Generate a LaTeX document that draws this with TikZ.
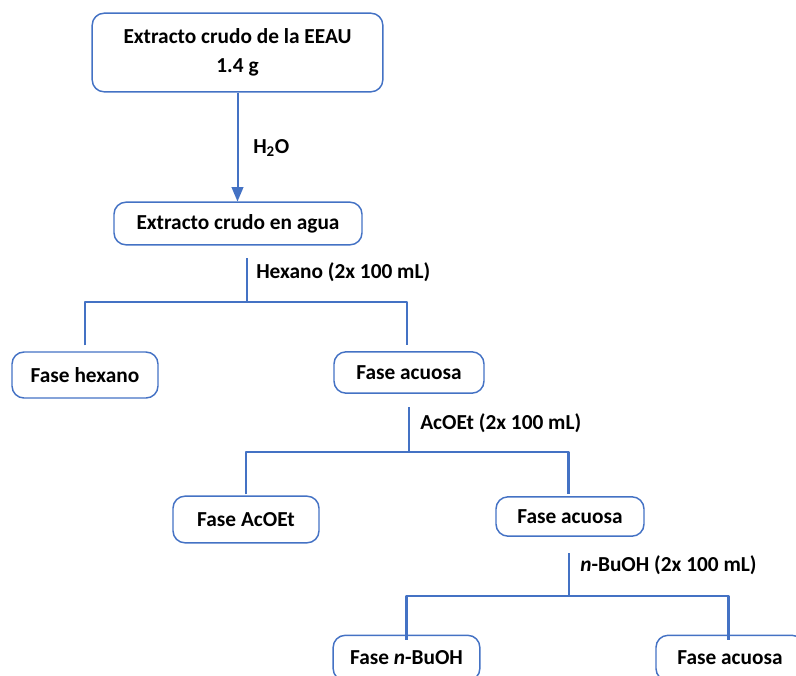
\documentclass[tikz,border=0pt]{standalone}
\usepackage{fontspec}
\setmainfont{Carlito}
\usetikzlibrary{arrows}
\usetikzlibrary{positioning}
\definecolor{azul}{HTML}{4472C4}

\begin{document}
\begin{tikzpicture}[line cap=butt,line join=round,>=triangle 45,x=0.75pt,y=-0.75pt,
  caja/.style={draw=azul,line width=1.1pt,rounded corners=9pt,align=center,inner sep=0pt,
    font=\bfseries\fontsize{16}{21.5}\selectfont},
  rama/.style={draw=azul,line width=2.2pt},
  flecha/.style={draw=azul,line width=1.5pt,->},
  etiqueta/.style={anchor=west,inner sep=0pt,font=\bfseries\fontsize{16}{19}\selectfont}]
\useasboundingbox (0,0) rectangle (796,675);
\clip (0,0) rectangle (796,675);
% cajas
\node[caja,minimum width=218pt,minimum height=59pt] (extracto) at (237.5,52.5) {Extracto crudo de la EEAU\\1.4 g};
\node[caja,minimum width=186pt,minimum height=32pt] (agua) at (238,223.5) {Extracto crudo en agua};
\node[caja,minimum width=109.5pt,minimum height=34.5pt] (fhex) at (85,375) {Fase hexano};
\node[caja,minimum width=112.5pt,minimum height=31pt] (facu1) at (409,372.5) {Fase acuosa};
\node[caja,minimum width=109.5pt,minimum height=35pt] (facoet) at (246,519.5) {Fase AcOEt};
\node[caja,minimum width=111pt,minimum height=29.5pt] (facu2) at (570,516.5) {Fase acuosa};
\node[caja,minimum width=110pt,minimum height=34pt] (fbuoh) at (406.5,658) {Fase \textit{n}-BuOH};
\node[caja,minimum width=111pt,minimum height=34pt] (facu3) at (730,658) {Fase acuosa};
% agua
\draw[flecha] (extracto.south) -- (extracto.south |- agua.north);
\node[etiqueta] (h2o) at (253,148) {H\textsubscript{2}O};
% hexano
\coordinate (s1) at (247,258);
\coordinate (n1) at (247,302);
\draw[rama] (s1) -- (n1);
\draw[rama] ([yshift=4.5pt]fhex.north) |- (n1) -| ([xshift=-1.5pt,yshift=4.5pt]facu1.north);
\node[etiqueta] (hexano) at (256,272) {Hexano (2x 100 mL)};
% acetato de etilo
\coordinate (s2) at (409,407);
\coordinate (n2) at (409,452);
\draw[rama] (s2) -- (n2);
\draw[rama] ([yshift=0.8pt]facoet.north) |- (n2) -| ([xshift=-0.8pt,yshift=1.5pt]facu2.north);
\node[etiqueta] (acoet) at (420,423) {AcOEt (2x 100 mL)};
% butanol
\coordinate (s3) at (569,553);
\coordinate (n3) at (569,596);
\draw[rama] (s3) -- (n3);
\draw[rama] ([yshift=-4pt]fbuoh.north) |- (n3) -| ([xshift=-0.8pt,yshift=-4pt]facu3.north);
\node[etiqueta] (buoh) at (580,565) {\textit{n}-BuOH (2x 100 mL)};
\end{tikzpicture}
\end{document}
